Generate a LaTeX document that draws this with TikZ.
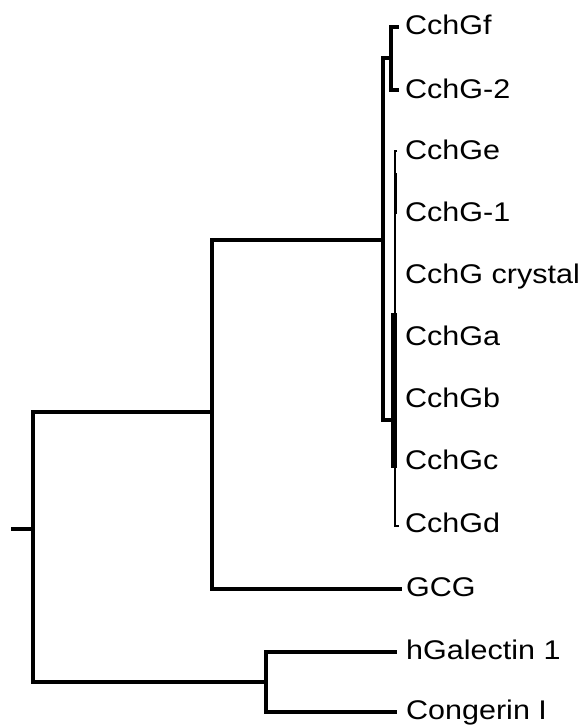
\documentclass[tikz,border=0pt]{standalone}
\usepackage{fontspec}
\setmainfont{Liberation Sans}[FakeStretch=1.13]
\tikzset{
  br/.style={line width=3.3pt, line cap=rect, line join=miter},
  thinbr/.style={line width=2.6pt, line cap=butt},
  thickbr/.style={line width=6pt, line cap=butt},
  lab/.style={anchor=west, inner sep=0pt, text height=19pt, text depth=0pt,
              font=\fontsize{27}{30}\selectfont}
}
\begin{document}
\begin{tikzpicture}[x=1pt,y=-1pt]
\useasboundingbox (0,0) rectangle (579,725);
% internal nodes
\coordinate (r0) at (13,529);
\coordinate (r) at (33,529);
\coordinate (a) at (212,412);
\coordinate (b) at (266,682);
\coordinate (c) at (383,240);
\coordinate (d) at (391,58);
\coordinate (e) at (393,420);
\coordinate (s1) at (395,151);
\coordinate (s2) at (395,526);
\coordinate (t1) at (395.5,173);
\coordinate (t2) at (395.5,214);
\coordinate (u1) at (393.5,313);
\coordinate (u2) at (393.5,468);
% leaf ends
\coordinate (lf) at (397,27);
\coordinate (l2) at (397,90);
\coordinate (le) at (397,151);
\coordinate (ld) at (399,526);
\coordinate (lgcg) at (400,589);
\coordinate (lh) at (395,652);
\coordinate (lc) at (395,712);
% labels
\node[lab] (nf) at (405,25.5) {CchGf};
\node[lab] (n2) at (405,88.5) {CchG-2};
\node[lab] (ne) at (405,150) {CchGe};
\node[lab] (n1) at (405,212) {CchG-1};
\node[lab] (nc) at (405,274) {CchG crystal};
\node[lab] (na) at (405,336) {CchGa};
\node[lab] (nb) at (405,398) {CchGb};
\node[lab] (ncc) at (405,460) {CchGc};
\node[lab] (nd) at (405,523) {CchGd};
\node[lab] (ng) at (406,587) {GCG};
\node[lab] (nh) at (406,650) {hGalectin 1};
\node[lab] (nk) at (406,710) {Congerin I};
% branches
\draw[br] (r0) -- (r);
\draw[br] (a) -| (r) |- (b);
\draw[br] (c) -| (a) |- (lgcg);
\draw[br] (lh) -| (b) |- (lc);
\draw[br] (d) -| (c) |- (e);
\draw[br] (lf) -| (d) |- (l2);
\draw[thinbr] (le) -- (s1) -- (s2) -- (ld);
\draw[thickbr, line width=3.8pt] (t1) -- (t2);
\draw[thickbr] (u1) -- (u2);
\end{tikzpicture}
\end{document}
